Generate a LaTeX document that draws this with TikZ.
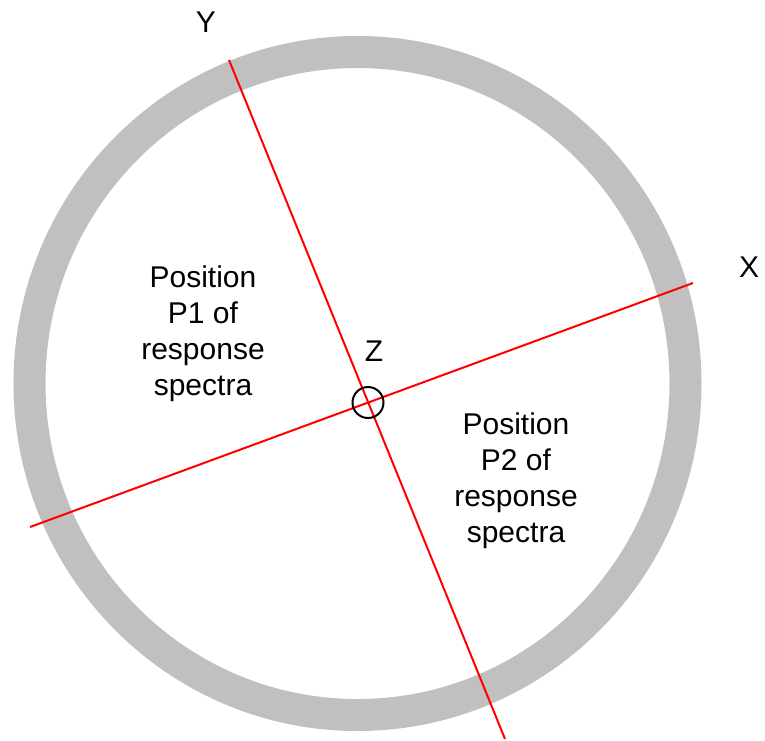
\documentclass[tikz,border=0pt]{standalone}
\usepackage{fontspec}
\setmainfont{Liberation Sans}
\usetikzlibrary{positioning}
\definecolor{ringgray}{RGB}{192,192,192}

\begin{document}
\begin{tikzpicture}[
    x=1pt, y=-1pt,
    ring/.style={draw=ringgray, line width=32pt},
    axisline/.style={draw=red, line width=2pt},
    lbl/.style={font=\fontsize{30}{36}\selectfont, inner sep=0pt, anchor=base},
    note/.style={font=\fontsize{30}{36}\selectfont, inner sep=0pt, align=center}
]
    \useasboundingbox (0,0) rectangle (765,740);

    % Ring
    \coordinate (c) at (357.5,383.5);
    \draw[ring] (c) ellipse [x radius=328, y radius=331.5];

    % Axes through Z
    \coordinate (z) at (368,402.5);
    \coordinate (xl) at (30,527);
    \coordinate (xr) at (693,283);
    \coordinate (yt) at (229,60);
    \coordinate (yb) at (505,739);
    \draw[axisline] (xl) -- (xr);
    \draw[axisline] (yt) -- (yb);
    \draw[black, line width=2pt] (z) circle [radius=15.5];

    % Labels
    \node[lbl] (ylab) at (206,32) {Y};
    \node[lbl] (xlab) at (749,277) {X};
    \node[lbl] (zlab) at (374,361) {Z};

    % Positions
    \node[note] (p1) at (203,334) {Position\\P1 of\\response\\spectra};
    \node[note] (p2) at (516,481) {Position\\P2 of\\response\\spectra};
\end{tikzpicture}
\end{document}
